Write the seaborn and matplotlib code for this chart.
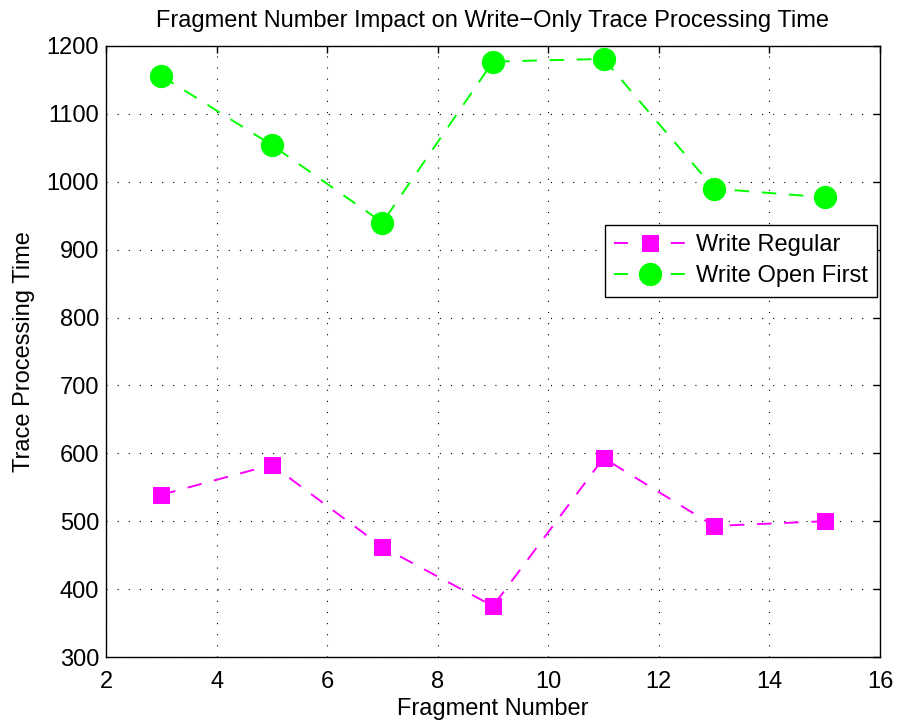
import matplotlib
matplotlib.use("Agg")
import matplotlib.pyplot as plt
import seaborn as sns
import pandas as pd

fragments = [3, 5, 7, 9, 11, 13, 15]
write_regular = [539, 583, 462, 375, 593, 493, 500]
write_open_first = [1156, 1054, 940, 1177, 1181, 990, 977]
series_names = ["Write Regular", "Write Open First"]

df = pd.DataFrame({
    "Fragment Number": fragments * 2,
    "Trace Processing Time": write_regular + write_open_first,
    "series": [series_names[0]] * len(fragments) + [series_names[1]] * len(fragments),
})

sns.set_style("white")
plt.rcParams["font.family"] = ["Liberation Sans", "DejaVu Sans"]
plt.rcParams["text.color"] = "black"
plt.rcParams["axes.labelcolor"] = "black"
plt.rcParams["xtick.color"] = "black"
plt.rcParams["ytick.color"] = "black"
plt.rcParams["xtick.direction"] = "in"
plt.rcParams["ytick.direction"] = "in"

fig = plt.figure(figsize=(8.99, 7.25), dpi=100)
ax = fig.add_axes([106 / 899, 1 - 657 / 725, 774 / 899, 611 / 725])

palette = {series_names[0]: "#ff00ff", series_names[1]: "#00ff00"}
markers = {series_names[0]: "s", series_names[1]: "o"}
sizes = {series_names[0]: 12, series_names[1]: 16}
lw = 1.4

for name in series_names:
    sub = df[df["series"] == name]
    sns.lineplot(data=sub, x="Fragment Number", y="Trace Processing Time",
                 ax=ax, color=palette[name], marker=markers[name],
                 markersize=sizes[name], markeredgecolor=palette[name],
                 linewidth=lw, dashes=False, linestyle=(0, (7.5, 6.5)),
                 label=name)

ax.set_xlim(2, 16)
ax.set_ylim(300, 1200)
ax.set_xticks(range(2, 17, 2))
ax.set_yticks(range(300, 1201, 100))
ax.tick_params(labelsize=17, length=5, width=1, top=True, right=True,
               colors="black")
ax.tick_params(axis="x", pad=10)
ax.tick_params(axis="y", pad=5)
ax.grid(True, color="black", linestyle=(0, (1, 9)), linewidth=0.8)
for sp in ax.spines.values():
    sp.set_color("black")
    sp.set_linewidth(1.0)

ax.set_xlabel("Fragment Number", fontsize=17, labelpad=4, color="black")
ax.set_ylabel("Trace Processing Time", fontsize=17, labelpad=8, color="black")
ax.set_title("Fragment Number Impact on Write\u2212Only Trace Processing Time",
             fontsize=17, pad=14, color="black")

leg = ax.legend(loc="upper right", bbox_to_anchor=(0.996, 0.707),
                fontsize=17, frameon=True, fancybox=False, framealpha=1,
                edgecolor="black", handlelength=3.0, borderpad=0.4,
                labelspacing=0.38, handletextpad=0.45, borderaxespad=0)
leg.get_frame().set_linewidth(1.0)
for txt in leg.get_texts():
    txt.set_color("black")
# legend handles: short dash, marker, short dash
for line in leg.get_lines():
    line.set_linestyle((0, (7.2, 22.0)))

fig.savefig("out.png", dpi=100)
